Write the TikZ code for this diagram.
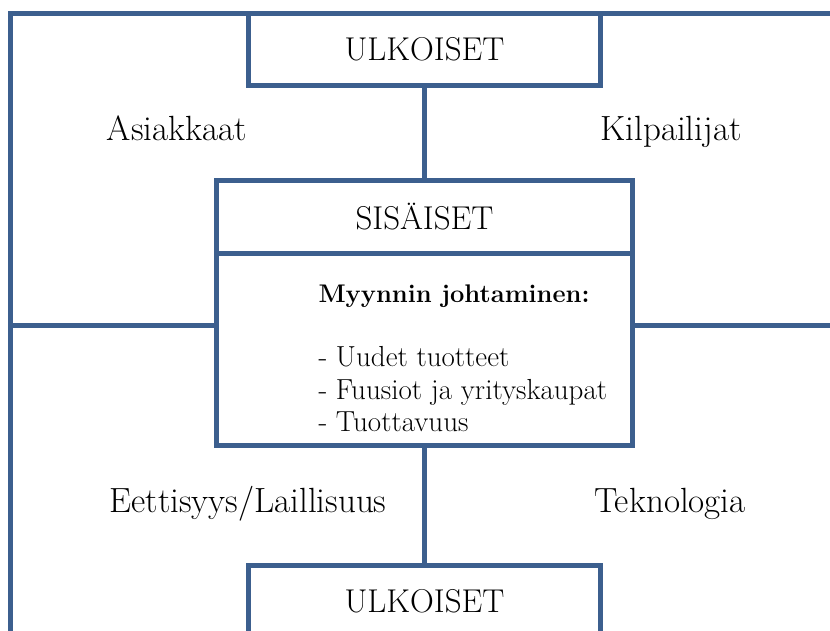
\documentclass[tikz,border=0pt]{standalone}
\usepackage{tikz}
\usetikzlibrary{positioning,calc}
\definecolor{viiva}{HTML}{3C5F8E}

\begin{document}
\begin{tikzpicture}[x=1pt,y=-1pt,line width=5pt,
  laatikko/.style={draw=viiva,fill=white,inner sep=0pt,outer sep=0pt,minimum width=352pt,minimum height=72pt,font=\fontsize{33}{40}\selectfont},
  otsikko/.style={anchor=base,font=\fontsize{35}{42}\selectfont}]
\clip (0,0) rectangle (830,630);
% Laatikot
\node[laatikko] (ulkoiset1) at (424.5,49) {ULKOISET};
\node[laatikko,minimum width=416pt,minimum height=73pt] (sisaiset) at (424.5,216.5) {SISÄISET};
\node[laatikko,minimum width=416pt,minimum height=192pt,below=0pt of sisaiset] (sisalto) {};
\node[laatikko] (ulkoiset2) at (424.5,601) {ULKOISET};
% Sisalto
\node[anchor=north west,align=left,inner sep=0pt,font=\fontsize{29}{32.5}\selectfont] (lista) at (316,282)
  {\fontsize{25.5}{32.5}\selectfont\textbf{Myynnin johtaminen:}\\[32pt] - Uudet tuotteet\\ - Fuusiot ja yrityskaupat\\ - Tuottavuus};
% Tekijat
\node[otsikko] (asiakkaat) at (177,140) {Asiakkaat};
\node[otsikko] (kilpailijat) at (671,140) {Kilpailijat};
\node[otsikko] (etiikka) at (248,512) {Eettisyys/Laillisuus};
\node[otsikko] (teknologia) at (670,512) {Teknologia};
% Viivat
\coordinate (va) at (10,640);
\coordinate (vy) at (10,13);
\coordinate (oy) at (835,13);
\coordinate (vk) at (10,325);
\coordinate (ok) at (835,325);
\draw[viiva] (va) -- (vy) -- (ulkoiset1.north west);
\draw[viiva] (ulkoiset1.north east) -- (oy);
\draw[viiva] (ulkoiset1) -- (sisaiset);
\draw[viiva] (vk) -- (vk -| sisalto.west);
\draw[viiva] (sisalto.east |- ok) -- (ok);
\draw[viiva] (sisalto) -- (ulkoiset2);
\end{tikzpicture}
\end{document}
